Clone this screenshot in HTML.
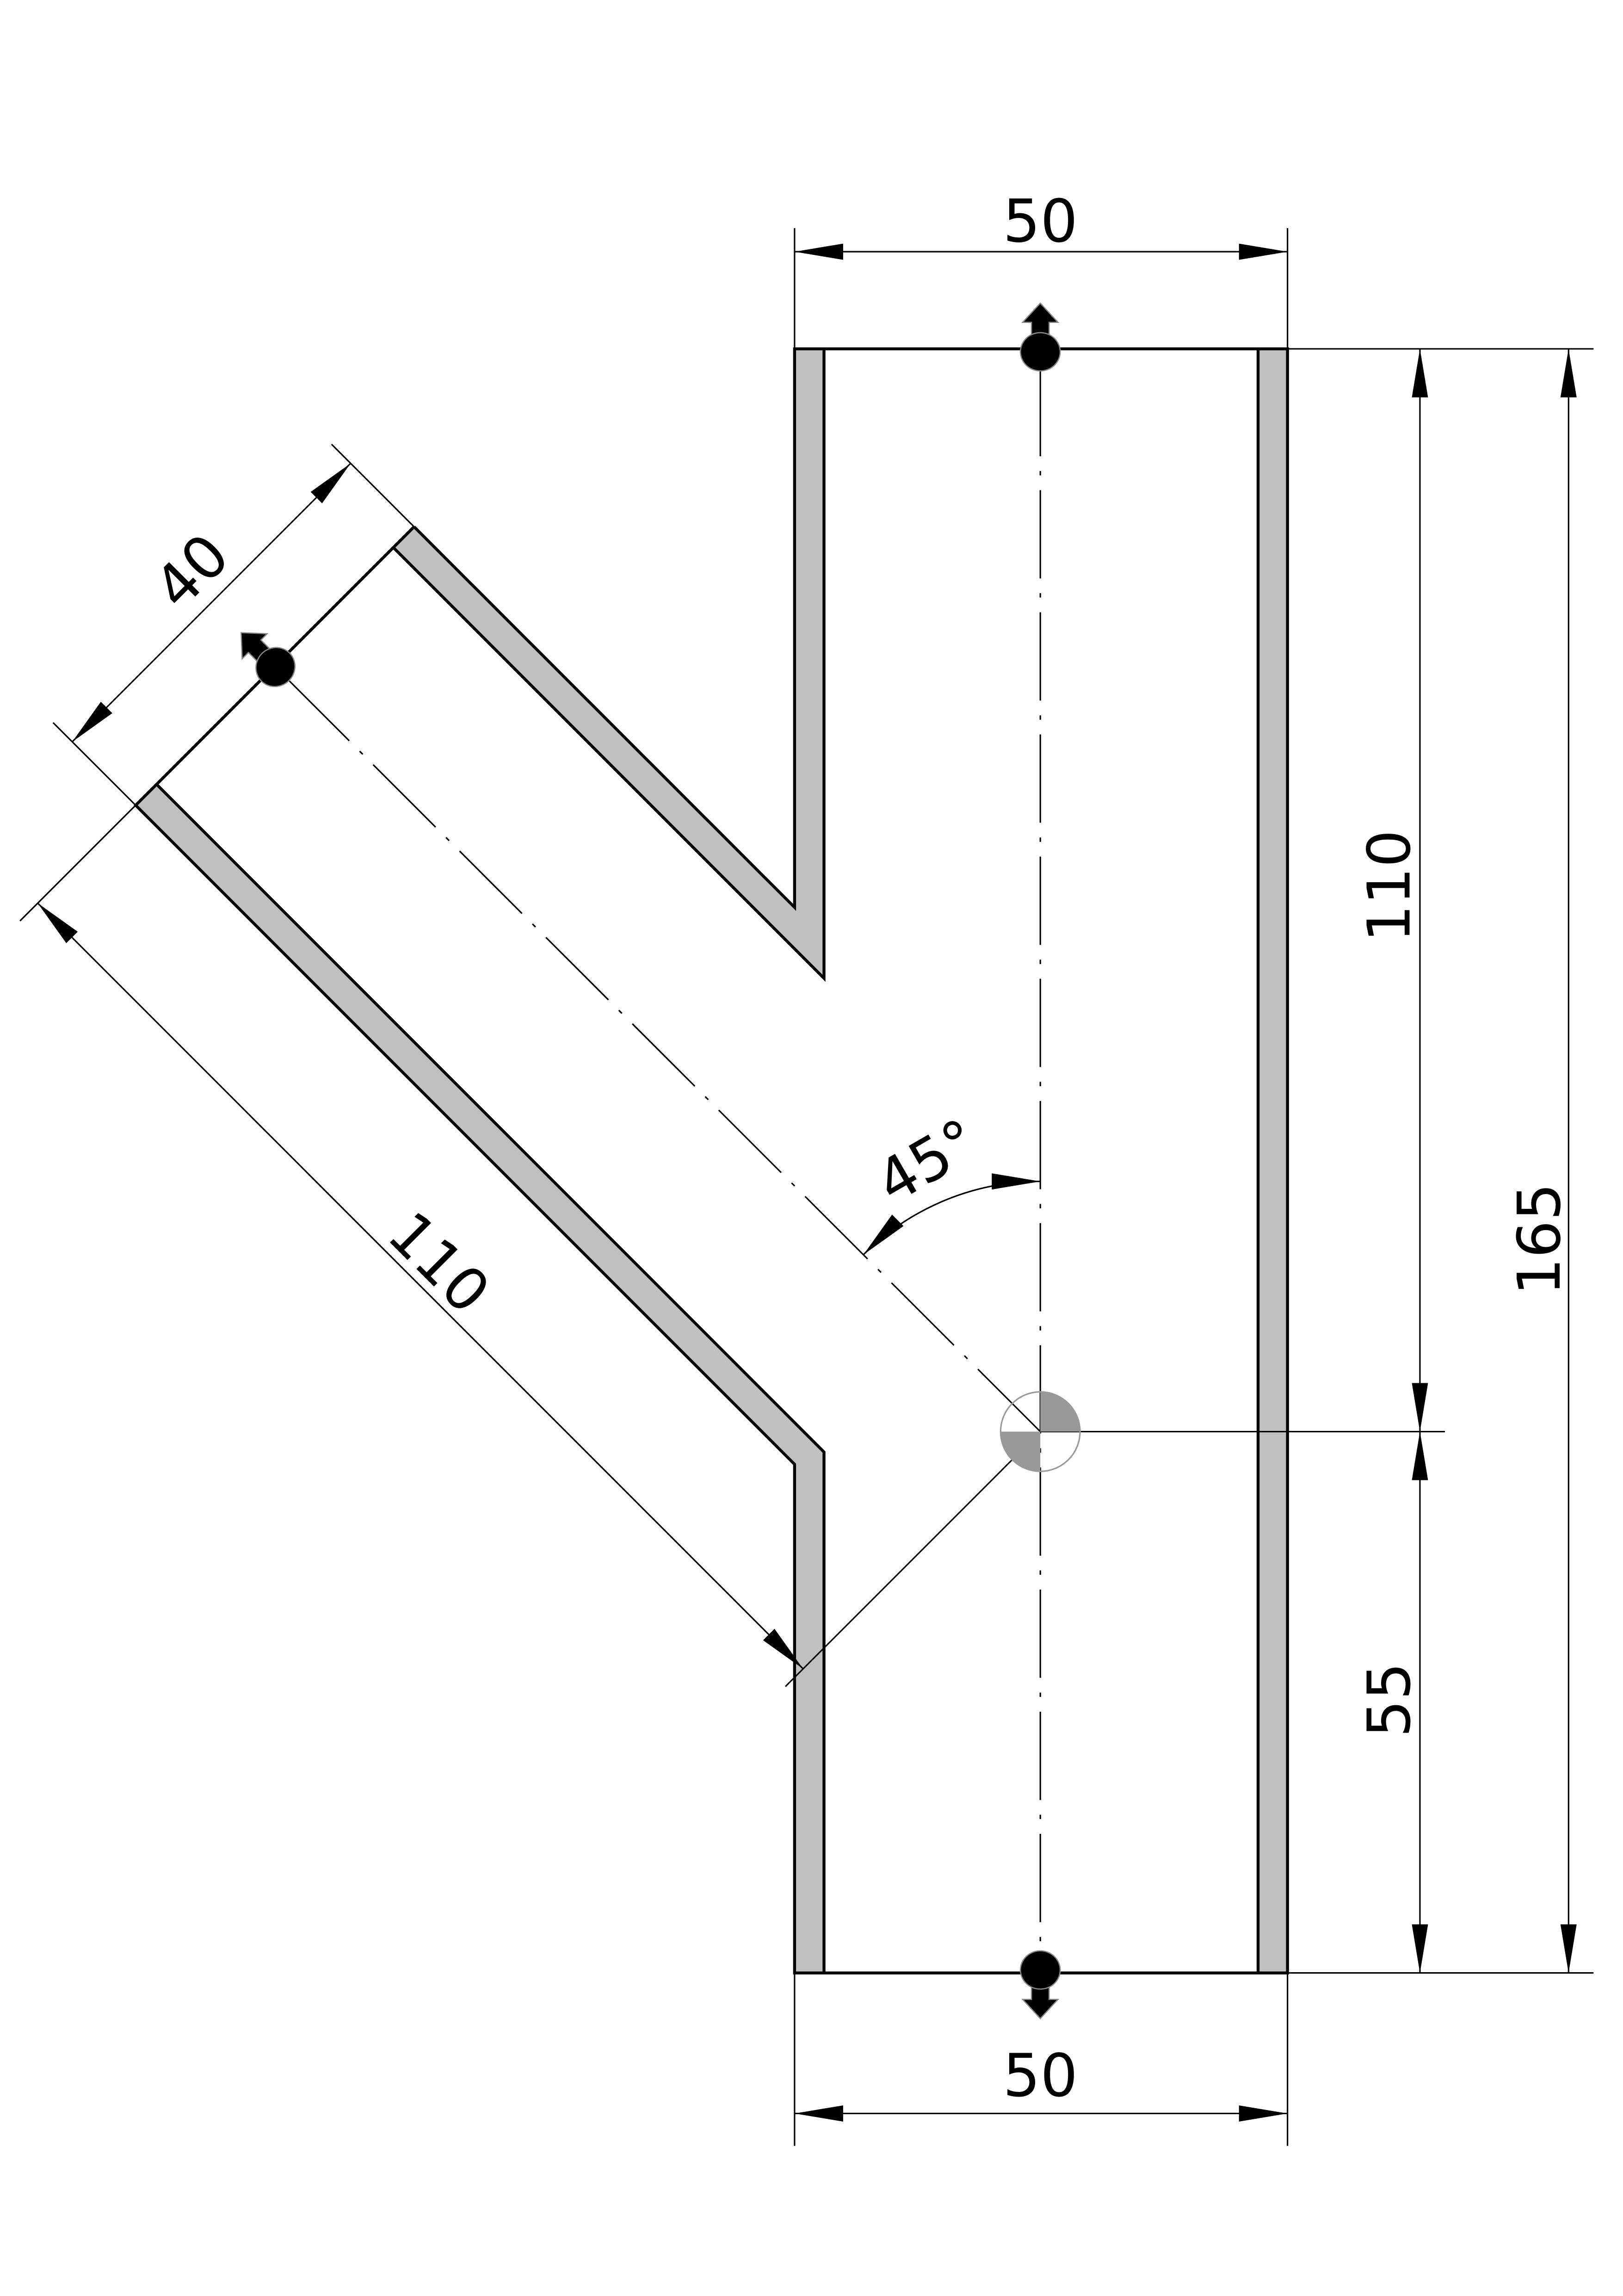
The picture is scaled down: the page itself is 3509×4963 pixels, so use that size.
<!DOCTYPE html>
<html><head><meta charset="utf-8"><style>
html,body{margin:0;padding:0;background:#fff;width:3509px;height:4963px;overflow:hidden;}
svg{display:block;}
text{font-family:"DejaVu Sans","Liberation Sans",sans-serif;font-size:40px;fill:#000;}
</style></head><body>
<svg width="3509" height="4963" viewBox="0 0 1103 1560" xmlns="http://www.w3.org/2000/svg">
<defs>
<marker id="a" markerUnits="userSpaceOnUse" markerWidth="40" markerHeight="14" refX="33" refY="6" orient="auto-start-reverse" viewBox="0 0 40 12">
<path d="M33,6 L0,0.5 L0,11.5 Z" fill="#000"/>
</marker>
<g id="port" fill="#000" stroke="#888" stroke-width="0.8">
<path d="M707,206 L719,219 L713,219 L713,230 L707,234 L701,230 L701,219 L695,219 Z"/>
<ellipse cx="707" cy="239" rx="13.5" ry="13"/>
</g>
</defs>
<rect width="1103" height="1560" fill="#fff"/>

<g fill="#c0c0c0" stroke="none">
<polygon points="540,237 560,237 560,664.7 267.3,372 281.4,357.9 540,616.5"/>
<polygon points="92.2,547.1 106.4,532.9 560,986.6 560,1340.5 540,1340.5 540,994.9"/>
<rect x="855" y="237" width="20" height="1103.5"/>
</g>

<g stroke="#000" stroke-width="2" fill="none" stroke-linejoin="miter">
<polyline points="281.4,357.9 540,616.5 540,237 875,237 875,1340.5 540,1340.5 540,994.9 92.2,547.1 281.4,357.9"/>
<polyline points="267.3,372 560,664.7 560,237"/>
<polyline points="106.4,532.9 560,986.6 560,1340.5"/>
<line x1="855" y1="237" x2="855" y2="1340.5"/>
</g>

<g stroke="#000" stroke-width="1" fill="none" stroke-dasharray="60 10 3 10">
<line x1="707" y1="250" x2="707" y2="1330"/>
<line x1="707" y1="972.7" x2="186.5" y2="452.5"/>
</g>

<g stroke="#000" stroke-width="1" fill="none">
<line x1="540" y1="155" x2="540" y2="237"/>
<line x1="875" y1="155" x2="875" y2="237"/>
<line x1="540" y1="1340.5" x2="540" y2="1458"/>
<line x1="875" y1="1340.5" x2="875" y2="1458"/>
<line x1="875" y1="237" x2="1083" y2="237"/>
<line x1="707" y1="972.7" x2="982" y2="972.7"/>
<line x1="875" y1="1340.5" x2="1083" y2="1340.5"/>
<line x1="281.4" y1="357.9" x2="225.3" y2="301.8"/>
<line x1="92.2" y1="547.1" x2="36.1" y2="491"/>
<line x1="707" y1="972.7" x2="533.8" y2="1145.9"/>
<line x1="92.2" y1="547.1" x2="13.6" y2="625.7"/>
</g>

<g stroke="#000" stroke-width="1" fill="none" marker-start="url(#a)" marker-end="url(#a)">
<line x1="540" y1="171" x2="875" y2="171"/>
<line x1="540" y1="1436" x2="875" y2="1436"/>
<line x1="965" y1="237" x2="965" y2="972.7"/>
<line x1="965" y1="972.7" x2="965" y2="1340.5"/>
<line x1="1066" y1="237" x2="1066" y2="1340.5"/>
<line x1="238.3" y1="314.8" x2="49.1" y2="504"/>
<line x1="25.6" y1="613.6" x2="545.8" y2="1133.9"/>
<path d="M707,802.7 A170,170 0 0 0 586.8,852.5"/>
</g>

<path d="M707,972.7 L707,945.7 A27,27 0 0 1 734,972.7 Z" fill="#999"/>
<path d="M707,972.7 L707,999.7 A27,27 0 0 1 680,972.7 Z" fill="#999"/>
<circle cx="707" cy="972.7" r="27" fill="none" stroke="#999" stroke-width="1"/>

<use href="#port"/>
<use href="#port" transform="translate(0,1577.5) scale(1,-1)"/>
<use href="#port" transform="translate(186.5,452.5) rotate(-45) translate(-707,-238)"/>

<text x="707" y="164" text-anchor="middle">50</text>
<text x="707" y="1424" text-anchor="middle">50</text>
<text transform="translate(958,602) rotate(-90)" text-anchor="middle">110</text>
<text transform="translate(958,1155) rotate(-90)" text-anchor="middle">55</text>
<text transform="translate(1060,842) rotate(-90)" text-anchor="middle">165</text>
<text transform="translate(140,398) rotate(-45)" text-anchor="middle">40</text>
<text transform="translate(288.5,867.7) rotate(45)" text-anchor="middle">110</text>
<text transform="translate(637,801) rotate(-30)" text-anchor="middle">45°</text>
</svg>
</body></html>
